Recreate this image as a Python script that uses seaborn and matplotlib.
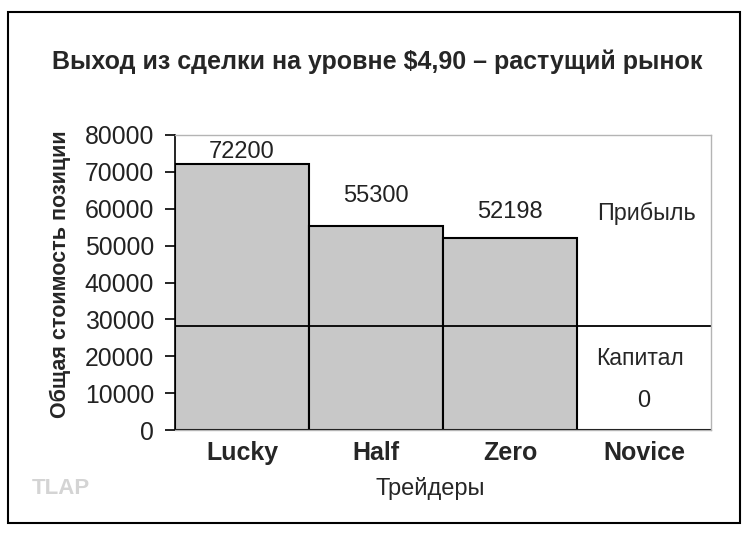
import pandas as pd
from matplotlib import pyplot as plt
from matplotlib.patches import Rectangle
import seaborn as sns

# data
traders = ['Lucky', 'Half', 'Zero', 'Novice']
totals = [72200, 55300, 52198, 0]
capital = 28200
yticks = [0, 10000, 20000, 30000, 40000, 50000, 60000, 70000, 80000]

title = 'Выход из сделки на уровне $4,90 – растущий рынок'
ylabel = 'Общая стоимость позиции'
xlabel = 'Трейдеры'

sns.set_style('white')
plt.rcParams['font.family'] = ['Liberation Sans', 'DejaVu Sans']

df = pd.DataFrame({'trader': traders, 'total': totals})

fig = plt.figure(figsize=(7.5, 5.38), dpi=100)
ax = fig.add_axes([175/750, 1-430/538, 536/750, 295/538])

sns.barplot(data=df, x='trader', y='total', color='#c8c8c8', saturation=1,
            width=1.0, edgecolor='black', linewidth=1.5, ax=ax)
ax.axhline(capital, color='black', lw=1.3)

ax.set_xlim(-0.5, 3.5)
ax.set_ylim(0, 80000)
ax.set_yticks(yticks)
ax.set_yticklabels([str(t) for t in yticks], fontsize=17.8, color='#222222')
ax.tick_params(axis='y', direction='out', length=7, width=1.2, color='black', left=True, pad=8)
ax.tick_params(axis='x', length=0, pad=8)
for lab in ax.get_xticklabels():
    lab.set_fontfamily(['Liberation Sans Narrow', 'Liberation Sans'])
    lab.set_fontweight('bold')
    lab.set_fontsize(18)
ax.set_xlabel('')
ax.set_ylabel('')

for s in ['top', 'right', 'bottom']:
    ax.spines[s].set_color('#b4b4b4')
    ax.spines[s].set_linewidth(1.0)
ax.spines['left'].set_color('black')
ax.spines['left'].set_linewidth(1.2)

# value labels (offsets in points, as placed in the original)
label_offsets = [8.6, 21.6, 18.7, 20.9]
for i, (v, off) in enumerate(zip(totals, label_offsets)):
    ax.annotate(str(v), (i, v), xytext=(0, off), textcoords='offset points',
                ha='center', va='center', fontsize=17, color='#222222')

ax.text(0.879, 0.7356, 'Прибыль', transform=ax.transAxes, ha='center', va='center', fontsize=16.8)
ax.text(0.8675, 0.244, 'Капитал', transform=ax.transAxes, ha='center', va='center', fontsize=16.5)

fig.text(377/750, 1-62/538, title, ha='center', va='center', fontsize=18, fontweight='bold')
fig.text(60/750, 1-274/538, ylabel, ha='center', va='center', rotation=90,
         fontsize=15.5, fontweight='bold')
fig.text(430/750, 1-488/538, xlabel, ha='center', va='center', fontsize=17)
fig.text(61/750, 1-488/538, 'TLAP', ha='center', va='center', fontsize=16,
         fontweight='bold', color='#d4d4d4')

fig.patches.append(Rectangle((8/750, 1-523/538), 732/750, 511/538, transform=fig.transFigure,
                             fill=False, edgecolor='black', lw=1.5))

plt.savefig('out.png', dpi=100)
plt.close()
